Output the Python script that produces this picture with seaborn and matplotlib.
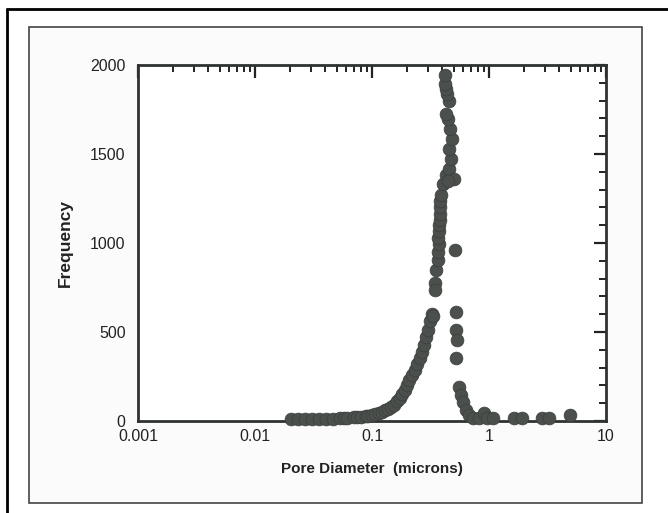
import numpy as np
import pandas as pd
import matplotlib
matplotlib.use("Agg")
import matplotlib.pyplot as plt
import seaborn as sns
from matplotlib.patches import Rectangle
from matplotlib.lines import Line2D
from matplotlib.ticker import LogLocator, FixedLocator, NullFormatter

# =========================
# DATA
# =========================
pore_diameter = [
    # low tail
    0.0204, 0.0234, 0.0269, 0.0309, 0.0355, 0.0408, 0.0468, 0.0537, 0.058, 0.0617,
    0.0708, 0.075, 0.0813, 0.088, 0.0933, 0.100, 0.107, 0.114, 0.121, 0.128,
    0.136, 0.145, 0.153, 0.163, 0.172, 0.181, 0.190, 0.200, 0.209, 0.220,
    0.231, 0.243, 0.255, 0.265, 0.276, 0.288, 0.299, 0.311, 0.323, 0.330,
    # main column
    0.343, 0.350, 0.343, 0.364, 0.364, 0.371, 0.364, 0.371, 0.371, 0.379,
    0.379, 0.379, 0.379, 0.386, 0.402, 0.427, 0.452, 0.499, 0.443, 0.470,
    0.452, 0.480, 0.461, 0.443, 0.427, 0.452, 0.434, 0.427, 0.418, 0.422,
    # falling side
    0.509, 0.519, 0.519, 0.529, 0.519, 0.551, 0.573, 0.597, 0.632, 0.671,
    0.736, 0.822, 0.90, 0.957, 1.09, 1.63, 1.91, 2.83, 3.25, 4.92,
]
frequency = [
    11, 11, 11, 11, 11, 14, 14, 17, 15, 17,
    20, 22, 23, 26, 28, 33, 39, 45, 51, 60,
    68, 80, 90, 110, 130, 150, 175, 200, 231, 260,
    287, 320, 355, 390, 428, 470, 513, 560, 600, 590,
    777, 851, 737, 907, 950, 992, 1030, 1065, 1100, 1132,
    1165, 1200, 1234, 1268, 1330, 1380, 1414, 1358, 1347, 1470,
    1527, 1583, 1640, 1696, 1724, 1797, 1837, 1865, 1893, 1944,
    963, 614, 513, 456, 355, 192, 146, 107, 62, 34,
    17, 17, 45, 17, 17, 17, 17, 17, 17, 34,
]

x_ticks = [0.001, 0.01, 0.1, 1, 10]
x_ticklabels = ["0.001", "0.01", "0.1", "1", "10"]
y_ticks = [0, 500, 1000, 1500, 2000]

df = pd.DataFrame({"diameter": pore_diameter, "frequency": frequency})

# =========================
# PLOT
# =========================
sns.set_style("white")
plt.rcParams["font.family"] = ["Liberation Sans", "DejaVu Sans"]

fig = plt.figure(figsize=(6.68, 5.13), dpi=100)
W, H = 668, 513

# frame decorations of the scan
fig.patches.append(Rectangle((29 / W, 1 - 503 / H), (642 - 29) / W, (503 - 27) / H,
                             transform=fig.transFigure, fill=True, facecolor="#fbfbfb",
                             edgecolor="#444444", linewidth=1.2, zorder=-10))
fig.lines.append(Line2D([7 / W, 7 / W], [0, 1 - 9 / H], transform=fig.transFigure,
                        color="black", linewidth=2, zorder=-5))
fig.lines.append(Line2D([7 / W, 1], [1 - 9 / H, 1 - 9 / H], transform=fig.transFigure,
                        color="black", linewidth=2, zorder=-5))

ax = fig.add_axes([138 / W, 1 - 421 / H, (606 - 138) / W, (421 - 65) / H])
ax.set_facecolor("white")

sns.scatterplot(data=df, x="diameter", y="frequency", ax=ax,
                s=85, color="#4b504d", edgecolor="#3a3e3c", linewidth=0.5,
                legend=False, zorder=3, clip_on=False)

ax.set_xscale("log")
ax.set_xlim(0.001, 10)
ax.set_ylim(0, 2000)

ax.xaxis.set_major_locator(FixedLocator(x_ticks))
ax.set_xticklabels(x_ticklabels)
ax.xaxis.set_minor_locator(LogLocator(base=10, subs=np.arange(2, 10), numticks=20))
ax.xaxis.set_minor_formatter(NullFormatter())
ax.yaxis.set_major_locator(FixedLocator(y_ticks))
ax.yaxis.set_minor_locator(FixedLocator(np.arange(0, 2001, 100)))

ax.tick_params(axis="both", which="major", direction="in", length=9, width=1.6,
               top=True, right=True, labelsize=11.5, colors="#222222", pad=9)
ax.tick_params(axis="both", which="minor", direction="in", length=5, width=1.4,
               top=True, right=True, colors="#222222")
ax.tick_params(axis="x", which="major", pad=6)

for side in ["left", "right", "top", "bottom"]:
    ax.spines[side].set_visible(True)
    ax.spines[side].set_color("#2e3230")
    ax.spines[side].set_linewidth(2)

ax.set_xlabel("Pore Diameter  (microns)", fontsize=11, fontweight="bold",
              color="#222222", labelpad=13)
ax.set_ylabel("Frequency", fontsize=12.5, fontweight="bold", color="#222222",
              labelpad=12)

plt.savefig("out.png", dpi=100)
plt.close()
